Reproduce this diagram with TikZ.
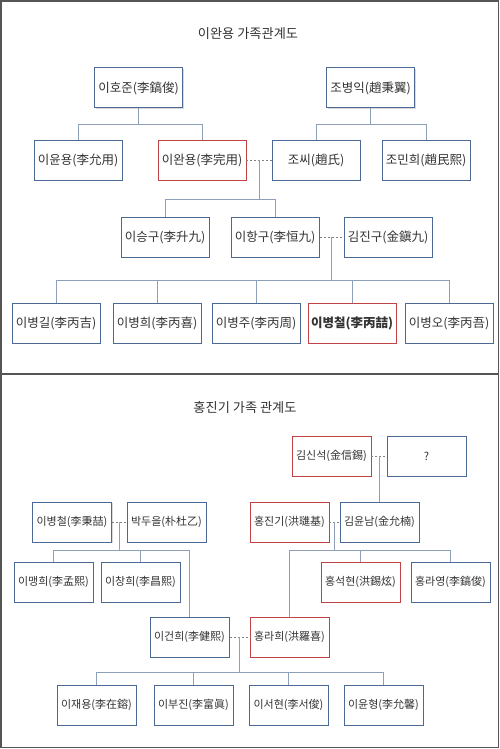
\documentclass[tikz,border=0pt]{standalone}
\usepackage{fontspec}
\setmainfont{Noto Sans CJK KR}
\usetikzlibrary{calc, shadows}
\definecolor{boxblue}{HTML}{4A6A95}
\definecolor{boxred}{HTML}{C04446}
\definecolor{kinblue}{HTML}{8EA0B8}
\definecolor{inkgray}{HTML}{333333}
\definecolor{framegray}{HTML}{555555}
\tikzset{x=1pt,y=-1pt}
\tikzset{
  person/.style={draw=boxblue, line width=1pt, fill=white, minimum height=40pt,
    inner sep=0pt, text=inkgray,
    drop shadow={shadow xshift=1pt, shadow yshift=-1.2pt, opacity=.3}},
  bigbox/.style={person, minimum width=88pt, font=\fontsize{12.5}{14}\selectfont},
  smallbox/.style={person, minimum width=79pt, font=\fontsize{11}{13}\selectfont},
  redbox/.style={draw=boxred, line width=.9pt},
  kinline/.style={draw=kinblue, line width=.8pt},
  spouseline/.style={draw=gray, line width=.8pt, dash pattern=on 2pt off 2pt},
  heading/.style={text=inkgray, font=\fontsize{13.2}{15}\selectfont},
}

\begin{document}
\begin{tikzpicture}
  \useasboundingbox (0,0) rectangle (500,749);
  \draw[framegray, line width=1.3pt] (1,1) rectangle (498.5,747.5);
  \draw[framegray, line width=1.3pt] (1,374) -- (498.5,374);

  % --- upper panel
  \node[heading] (title1) at (248,34) {이완용 가족관계도};
  \node[bigbox] (hojun) at (138.5,88) {이호준(李鎬俊)};
  \node[bigbox] (byeongik) at (370.5,88) {조병익(趙秉翼)};
  \node[bigbox] (yunyong) at (78,160) {이윤용(李允用)};
  \node[bigbox, redbox] (wanyong) at (202,160) {이완용(李完用)};
  \node[bigbox] (jossi) at (316,160) {조씨(趙氏)};
  \node[bigbox] (minhui) at (426,160) {조민희(趙民熙)};
  \node[bigbox] (seunggu) at (165,237) {이승구(李升九)};
  \node[bigbox] (hanggu) at (275,237) {이항구(李恒九)};
  \node[bigbox] (jingu) at (388,237) {김진구(金鎭九)};
  \node[bigbox] (byeonggil) at (56,323) {이병길(李丙吉)};
  \node[bigbox] (byeonghui) at (157,323) {이병희(李丙喜)};
  \node[bigbox] (byeongju) at (256,323) {이병주(李丙周)};
  \node[bigbox, redbox, font=\fontsize{12.5}{14}\selectfont\bfseries] (byeongcheol) at (352,323) {이병철(李丙喆)};
  \node[bigbox] (byeongo) at (449,323) {이병오(李丙吾)};

  % parents to children
  \draw[kinline] (hojun.south) -- ++(0,16) coordinate (j1);
  \foreach \c in {yunyong, wanyong} \draw[kinline] (j1) -| (\c.north);
  \draw[kinline] (byeongik.south) -- ++(0,16) coordinate (j2);
  \foreach \c in {jossi, minhui} \draw[kinline] (j2) -| (\c.north);
  % couples
  \draw[spouseline] (wanyong.east) -- (jossi.west);
  \coordinate (m1) at ($(wanyong.east)!.5!(jossi.west)$);
  \draw[kinline] (m1) -- ++(0,39) coordinate (j3);
  \foreach \c in {seunggu, hanggu} \draw[kinline] (j3) -| (\c.north);
  \draw[spouseline] (hanggu.east) -- (jingu.west);
  \coordinate (m2) at ($(hanggu.east)!.5!(jingu.west)$);
  \draw[kinline] (m2) -- ++(0,43) coordinate (j4);
  \foreach \c in {byeonggil, byeonghui, byeongju, byeongcheol, byeongo}
    \draw[kinline] (j4) -| (\c.north);

  % --- lower panel
  \node[heading] (title2) at (245,407) {홍진기 가족 관계도};
  \node[smallbox, redbox] (sinseok) at (331.5,456) {김신석(金信錫)};
  \node[smallbox] (unknown) at (426.5,456) {?};
  \node[smallbox] (cheolsr) at (72,522) {이병철(李秉喆)};
  \node[smallbox] (dueul) at (166.5,522) {박두을(朴杜乙)};
  \node[smallbox, redbox] (jingi) at (289.5,522) {홍진기(洪璡基)};
  \node[smallbox] (yunnam) at (379.5,522) {김윤남(金允楠)};
  \node[smallbox] (maenghui) at (53.5,582) {이맹희(李孟熙)};
  \node[smallbox] (changhui) at (140.5,582) {이창희(李昌熙)};
  \node[smallbox, redbox] (seokhyeon) at (360.5,582) {홍석현(洪錫炫)};
  \node[smallbox] (rayeong) at (450.5,582) {홍라영(李鎬俊)};
  \node[smallbox] (geonhui) at (189.5,637) {이건희(李健熙)};
  \node[smallbox, redbox] (rahui) at (289.5,637) {홍라희(洪羅喜)};
  \node[smallbox] (jaeyong) at (96.5,705) {이재용(李在鎔)};
  \node[smallbox] (bujin) at (193.5,705) {이부진(李富眞)};
  \node[smallbox] (seohyeon) at (288.5,705) {이서현(李서俊)};
  \node[smallbox] (yunhyeong) at (383.5,705) {이윤형(李允馨)};

  \draw[spouseline] (sinseok.east) -- (unknown.west);
  \coordinate (m3) at ($(sinseok.east)!.5!(unknown.west)$);
  \draw[kinline] (m3) -- (m3 |- yunnam.north);
  \draw[spouseline] (cheolsr.east) -- (dueul.west);
  \coordinate (m4) at ($(cheolsr.east)!.5!(dueul.west)$);
  \draw[kinline] (m4) -- ++(0,28) coordinate (j5);
  \foreach \c in {maenghui, changhui, geonhui} \draw[kinline] (j5) -| (\c.north);
  \draw[spouseline] (jingi.east) -- (yunnam.west);
  \coordinate (m5) at ($(jingi.east)!.5!(yunnam.west)$);
  \draw[kinline] (m5) -- ++(0,28) coordinate (j6);
  \foreach \c in {rahui, seokhyeon, rayeong} \draw[kinline] (j6) -| (\c.north);
  \draw[spouseline] (geonhui.east) -- (rahui.west);
  \coordinate (m6) at ($(geonhui.east)!.5!(rahui.west)$);
  \draw[kinline] (m6) -- ++(0,35) coordinate (j7);
  \foreach \c in {jaeyong, bujin, seohyeon, yunhyeong} \draw[kinline] (j7) -| (\c.north);
\end{tikzpicture}
\end{document}
